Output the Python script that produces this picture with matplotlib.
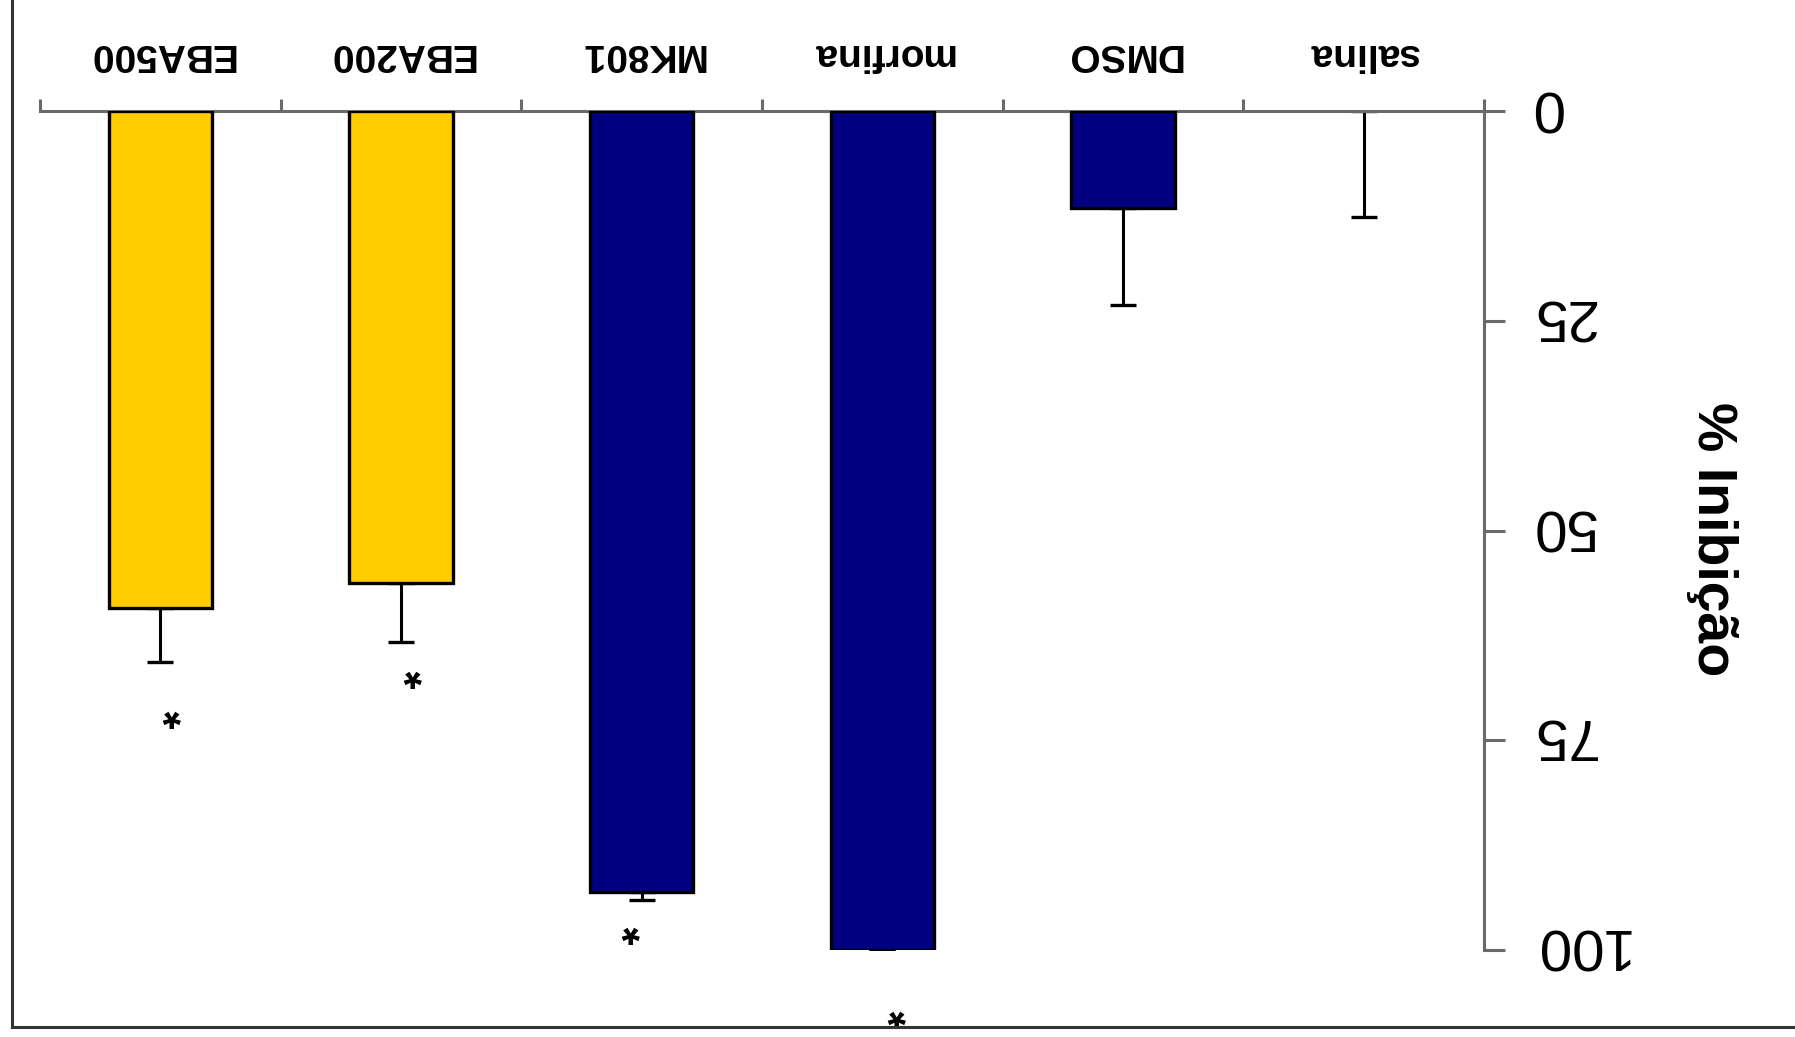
import numpy as np
import matplotlib
matplotlib.use("Agg")
import matplotlib.pyplot as plt
from matplotlib.lines import Line2D

plt.rcParams['font.family'] = ['Liberation Sans', 'DejaVu Sans']

# ---- data ----
categories = ["salina", "DMSO", "morfina", "MK801", "EBA200", "EBA500"]
inhibition = [0.0, 11.6, 100.0, 93.1, 56.2, 59.2]
sem = [12.6, 11.5, 0.0, 1.0, 7.1, 6.5]
bar_colors = ["#000080", "#000080", "#000080", "#000080", "#FFCC00", "#FFCC00"]
star_x = [1.939, 3.044, 3.950, 4.952]
star_y = [108.6, 98.6, 68.1, 72.9]
y_ticks = [0, 25, 50, 75, 100]
y_label = "% Inibição"

W, H = 1795, 1037
fig = plt.figure(figsize=(W / 100, H / 100), dpi=100)
fig.patch.set_facecolor("white")

left, right, top, bottom = 40, 1484, 111, 950
ax = fig.add_axes([left / W, 1 - bottom / H, (right - left) / W, (bottom - top) / H])
ax.set_facecolor("none")

x = np.arange(len(categories))
edge_w = [2.4 if v > 0 else 0 for v in inhibition]
ax.bar(x, inhibition, width=0.43, color=bar_colors, edgecolor="black",
       linewidth=edge_w, zorder=3)
ax.errorbar(x, inhibition, yerr=[np.zeros(len(sem)), sem], fmt="none",
            ecolor="black", elinewidth=2.2, capsize=9.7, capthick=2.4, zorder=2)

for sx, sy in zip(star_x, star_y):
    ax.annotate("*", xy=(sx, sy), xytext=(0, 19.5), textcoords="offset points",
                rotation=180, rotation_mode="anchor", ha="center", va="baseline",
                fontsize=34, fontweight="bold", color="black",
                annotation_clip=False, zorder=4)

ax.set_xlim(len(categories) - 0.5, -0.5)
ax.set_ylim(100, 0)

spine_color = "#6a6a6a"
for s in ["left", "bottom"]:
    ax.spines[s].set_visible(False)
for s in ["top", "right"]:
    ax.spines[s].set_color(spine_color)
    ax.spines[s].set_linewidth(2.2)

ax.xaxis.tick_top()
ax.set_xticks(x)
ax.set_xticklabels(categories, rotation=180, fontsize=28, fontweight="bold")
ax.set_xticks(np.arange(-0.5, len(categories)), minor=True)
ax.tick_params(axis="x", which="major", length=0, pad=28)
ax.tick_params(axis="x", which="minor", length=8.6, width=2.2, color=spine_color,
               direction="out", top=True, bottom=False)

ax.yaxis.tick_right()
ax.set_yticks(y_ticks)
ax.set_yticklabels([str(t) for t in y_ticks], rotation=180, rotation_mode="anchor",
                   ha="right", va="center_baseline", fontsize=42)
ax.tick_params(axis="y", which="major", length=15, width=2.2, color=spine_color,
               direction="out", pad=18, right=True, left=False)

ax.set_ylabel(y_label, rotation=270, fontsize=40, fontweight="bold",
              ha="center", va="center")
ax.yaxis.set_label_position("right")
ax.yaxis.set_label_coords((1738 - left) / (right - left), (bottom - 539) / (bottom - top))

# figure border (left and bottom visible, as in the reference)
bx = 12 / W
by = 1 - 1027 / H
fig.add_artist(Line2D([bx, bx], [by, 1.0], transform=fig.transFigure,
                      color="#333333", linewidth=2.2))
fig.add_artist(Line2D([bx, 1.0], [by, by], transform=fig.transFigure,
                      color="#333333", linewidth=2.2))

fig.savefig("out.png", dpi=100, facecolor="white")
